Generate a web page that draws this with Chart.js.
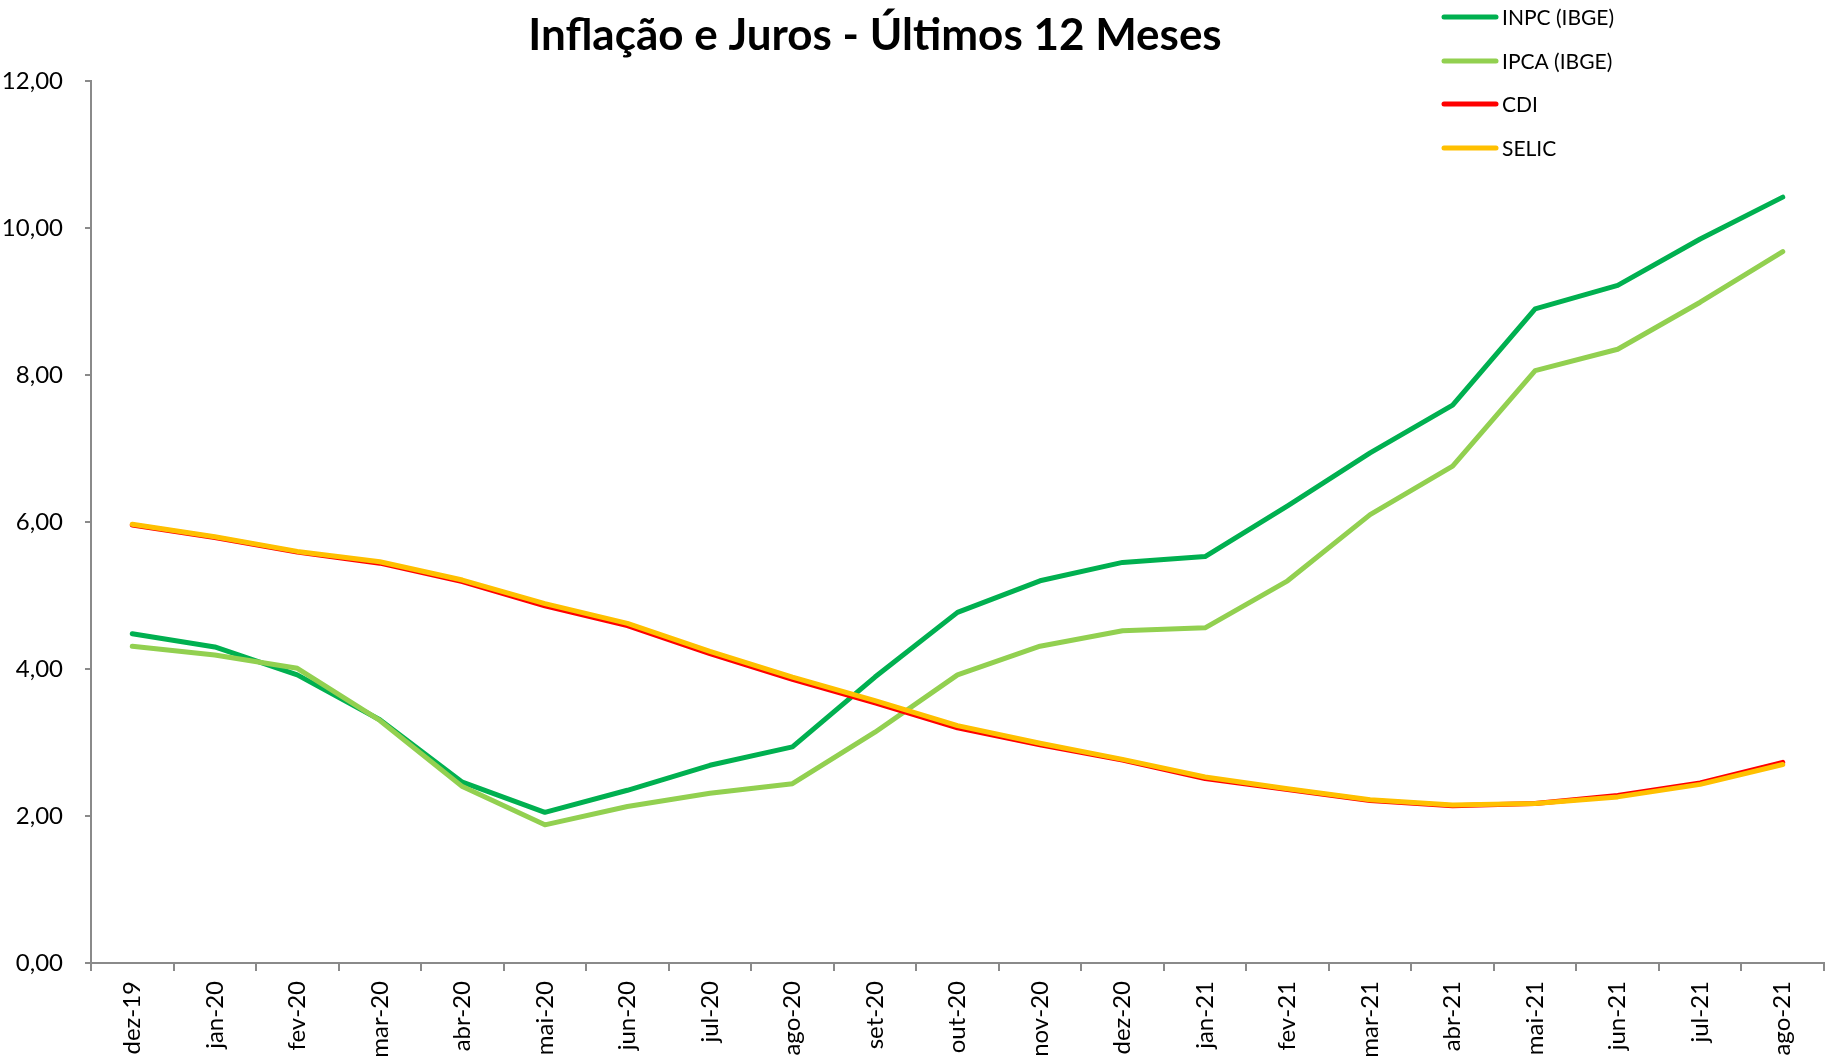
<!DOCTYPE html>
<html>
<head>
<meta charset="utf-8">
<script src="https://cdn.jsdelivr.net/npm/chart.js@4.4.1/dist/chart.umd.min.js"></script>
<style>
  html, body { margin: 0; padding: 0; background: #ffffff; }
  #wrap { position: relative; width: 1826px; height: 1060px; }
  canvas { display: block; }
</style>
</head>
<body>
<div id="wrap"><canvas id="c" width="1826" height="1060"></canvas></div>
<script>
const chartTitle = 'Inflação e Juros - Últimos 12 Meses';
const months = ['dez-19','jan-20','fev-20','mar-20','abr-20','mai-20','jun-20','jul-20','ago-20','set-20','out-20','nov-20','dez-20','jan-21','fev-21','mar-21','abr-21','mai-21','jun-21','jul-21','ago-21'];
const inpc  = [4.48, 4.30, 3.92, 3.31, 2.46, 2.05, 2.35, 2.69, 2.94, 3.89, 4.77, 5.20, 5.45, 5.53, 6.22, 6.94, 7.59, 8.90, 9.22, 9.85, 10.42];
const ipca  = [4.31, 4.19, 4.01, 3.30, 2.40, 1.88, 2.13, 2.31, 2.44, 3.14, 3.92, 4.31, 4.52, 4.56, 5.20, 6.10, 6.76, 8.06, 8.35, 8.99, 9.68];
const cdi   = [5.96, 5.79, 5.59, 5.44, 5.19, 4.86, 4.59, 4.21, 3.86, 3.54, 3.20, 2.97, 2.76, 2.51, 2.36, 2.21, 2.14, 2.17, 2.28, 2.45, 2.73];
const selic = [5.97, 5.80, 5.60, 5.46, 5.21, 4.89, 4.62, 4.24, 3.89, 3.57, 3.23, 2.99, 2.77, 2.53, 2.37, 2.22, 2.15, 2.17, 2.26, 2.43, 2.70];
const seriesNames = ['INPC (IBGE)', 'IPCA (IBGE)', 'CDI', 'SELIC'];
const seriesColors = ['#00B050', '#92D050', '#FF0000', '#FFC000'];
const yTicks = [0, 2, 4, 6, 8, 10, 12];

const FONT = "Lato, 'Open Sans', sans-serif";
const AXIS = '#8a8a8a';

const titleAndLegend = {
  id: 'titleAndLegend',
  afterDraw(chart) {
    const ctx = chart.ctx;
    ctx.save();
    ctx.fillStyle = '#000';
    ctx.font = 'bold 44px ' + FONT;
    ctx.textAlign = 'center';
    ctx.textBaseline = 'middle';
    ctx.fillText(chartTitle, 875, 36);

    ctx.font = '21px ' + FONT;
    ctx.textAlign = 'left';
    const rowY = [17, 61, 104, 148];
    chart.data.datasets.forEach((ds, i) => {
      const y = rowY[i];
      ctx.strokeStyle = ds.borderColor;
      ctx.lineWidth = 5;
      ctx.lineCap = 'round';
      ctx.beginPath();
      ctx.moveTo(1444, y);
      ctx.lineTo(1496, y);
      ctx.stroke();
      ctx.fillStyle = '#000';
      ctx.fillText(ds.label, 1502, y + 1);
    });
    ctx.restore();
  }
};

const values = [inpc, ipca, cdi, selic];
const datasets = seriesNames.map((name, i) => ({
  label: name,
  data: values[i],
  borderColor: seriesColors[i],
  backgroundColor: seriesColors[i],
  borderWidth: 5,
  borderCapStyle: 'round',
  borderJoinStyle: 'round',
  pointRadius: 0,
  tension: 0,
  fill: false,
  order: 3 - i
}));

new Chart(document.getElementById('c'), {
  type: 'line',
  data: { labels: months, datasets },
  options: {
    responsive: false,
    animation: false,
    devicePixelRatio: 1,
    layout: { padding: { top: 81, right: 2, left: 0, bottom: 0 } },
    plugins: {
      legend: { display: false },
      title: { display: false },
      tooltip: { enabled: false }
    },
    scales: {
      x: {
        offset: true,
        grid: {
          offset: true,
          drawOnChartArea: false,
          drawTicks: true,
          tickLength: 8,
          color: AXIS,
          lineWidth: 2
        },
        border: { display: true, color: AXIS, width: 2 },
        ticks: {
          autoSkip: false,
          minRotation: 90,
          maxRotation: 90,
          padding: 10,
          color: '#000',
          font: { family: FONT, size: 24 }
        },
        afterFit(scale) { scale.height = 97; }
      },
      y: {
        min: 0,
        max: 12,
        afterBuildTicks(scale) { scale.ticks = yTicks.map(v => ({ value: v })); },
        grid: {
          drawOnChartArea: false,
          drawTicks: true,
          tickLength: 6,
          color: AXIS,
          lineWidth: 2
        },
        border: { display: true, color: AXIS, width: 2 },
        ticks: {
          padding: 22,
          color: '#000',
          font: { family: FONT, size: 24 },
          callback: (v) => Number(v).toFixed(2).replace('.', ',')
        },
        afterFit(scale) { scale.width = 91; }
      }
    }
  },
  plugins: [titleAndLegend]
});
</script>
</body>
</html>
